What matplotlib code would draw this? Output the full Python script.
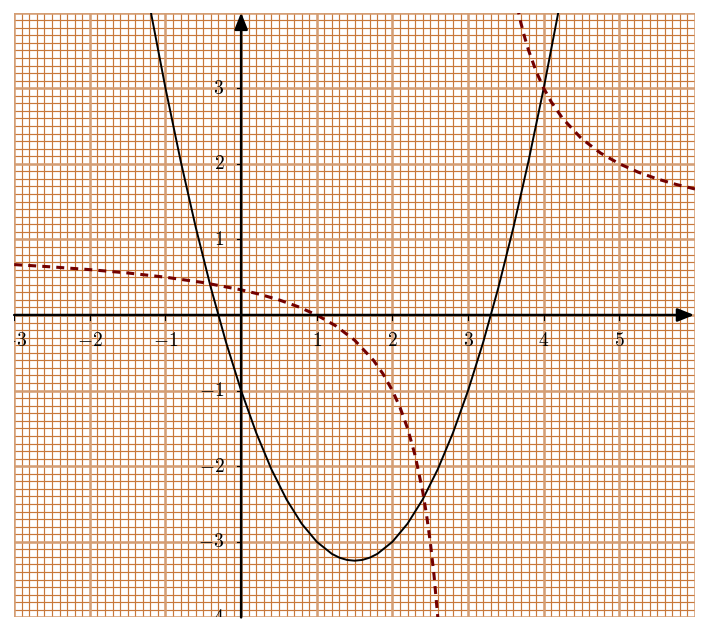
import numpy as np
import matplotlib
matplotlib.use("Agg")
import matplotlib.pyplot as plt

plt.rcParams['mathtext.fontset'] = 'cm'

# parabola (solid black)
par_x = [-1.2, -1.0, -0.8, -0.6, -0.4, -0.2, 0.0, 0.2, 0.4, 0.6, 0.8, 1.0, 1.2, 1.3, 1.4,
         1.5, 1.6, 1.7, 1.8, 2.0, 2.2, 2.4, 2.6, 2.8, 3.0, 3.2, 3.4, 3.6, 3.8, 4.0, 4.2]
par_y = [4.04, 3.0, 2.04, 1.16, 0.36, -0.36, -1.0, -1.56, -2.04, -2.44, -2.76, -3.0, -3.16, -3.21, -3.24,
         -3.25, -3.24, -3.21, -3.16, -3.0, -2.76, -2.44, -2.04, -1.56, -1.0, -0.36, 0.36, 1.16, 2.04, 3.0, 4.04]

# dashed curve, left branch
left_x = [-3.0, -2.5, -2.0, -1.5, -1.0, -0.5, 0.0, 0.25, 0.5, 0.75, 1.0, 1.25, 1.5, 1.75,
          1.875, 2.0, 2.1, 2.2, 2.3, 2.4, 2.45, 2.5, 2.55, 2.6]
left_y = [0.667, 0.636, 0.6, 0.556, 0.5, 0.429, 0.333, 0.273, 0.2, 0.111, 0.0, -0.143, -0.333, -0.6,
          -0.778, -1.0, -1.222, -1.5, -1.857, -2.333, -2.636, -3.0, -3.444, -4.0]

# dashed curve, right branch
right_x = [3.65, 3.7, 3.75, 3.8, 3.9, 4.0, 4.1, 4.25, 4.5, 4.75, 5.0, 5.25, 5.5, 5.75, 6.0]
right_y = [4.08, 3.857, 3.667, 3.5, 3.222, 3.0, 2.818, 2.6, 2.333, 2.143, 2.0, 1.889, 1.8, 1.727, 1.667]

x_ticks = [-3, -2, -1, 1, 2, 3, 4, 5]
y_ticks = [-4, -3, -2, -1, 1, 2, 3]

W, H = 704, 621
fig = plt.figure(figsize=(W / 100, H / 100), dpi=100)
ax = fig.add_axes([14.2 / W, 3.6 / H, (695 - 14.2) / W, (617.4 - 12.6) / H])
ax.set_xlim(-3, 6)
ax.set_ylim(-4, 4)
ax.axis('off')

# millimetre paper
minor = '#c8783a'
major = '#d49e74'
gx = np.round(np.arange(-3, 6.001, 0.1), 2)
gy = np.round(np.arange(-4, 4.001, 0.1), 2)
ax.vlines(gx, -4, 4, color=minor, lw=0.85, zorder=1)
ax.hlines(gy, -3, 6, color=minor, lw=0.85, zorder=1)
ax.vlines(np.arange(-3, 7), -4, 4, color=major, lw=1.8, zorder=2)
ax.hlines(np.arange(-4, 5), -3, 6, color=major, lw=1.8, zorder=2)

# axes with arrows
ax.annotate('', xy=(5.99, 0), xytext=(-3, 0), annotation_clip=False,
            arrowprops=dict(arrowstyle='-|>,head_length=0.5,head_width=0.2', lw=1.8, color='k',
                            mutation_scale=20, shrinkA=0, shrinkB=0), zorder=5)
ax.annotate('', xy=(0, 4.0), xytext=(0, -4), annotation_clip=False,
            arrowprops=dict(arrowstyle='-|>,head_length=0.5,head_width=0.2', lw=1.8, color='k',
                            mutation_scale=20, shrinkA=0, shrinkB=0), zorder=5)

for t in x_ticks:
    ax.plot([t, t], [0, -0.06], color='k', lw=0.8, zorder=5)
    ax.text(t, -0.34, r'$%d$' % t, ha='center', va='center', fontsize=14, clip_on=True, zorder=6)
for t in y_ticks:
    ax.plot([0, -0.06], [t, t], color='k', lw=0.8, zorder=5)
    ax.text(-0.22, t, r'$%d$' % t, ha='right', va='center', fontsize=14, clip_on=True, zorder=6)

ax.plot(par_x, par_y, color='k', lw=1.4, zorder=4)
ax.plot(left_x, left_y, color='#720000', lw=2.2, dashes=(2.6, 2.0), zorder=4)
ax.plot(right_x, right_y, color='#720000', lw=2.2, dashes=(2.6, 2.0), zorder=4)

fig.savefig('out.png', dpi=100)
